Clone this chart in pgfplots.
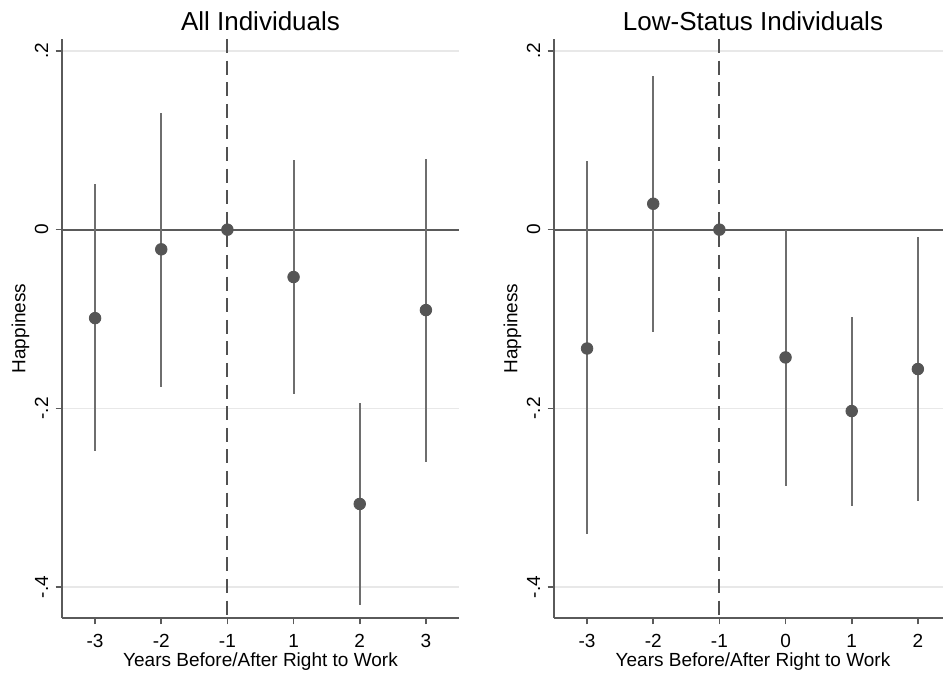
\documentclass[border=0pt]{standalone}
\usepackage{fontspec}
\setmainfont{Liberation Sans}
\usepackage{pgfplots}
\usepackage{pgfplotstable}
\pgfplotsset{compat=1.18}

\definecolor{mk}{RGB}{85,85,85}
\definecolor{ci}{RGB}{110,110,110}
\definecolor{ax}{RGB}{90,90,90}
\definecolor{gr}{RGB}{232,232,232}

\pgfplotstableread{
x y ep em
0 -0.099 0.150 0.149
1 -0.022 0.153 0.154
2 0 0 0
3 -0.053 0.131 0.131
4 -0.307 0.113 0.113
5 -0.090 0.169 0.170
}\allind

\pgfplotstableread{
x y ep em
0 -0.133 0.210 0.208
1 0.029 0.143 0.144
2 0 0 0
3 -0.143 0.143 0.144
4 -0.203 0.105 0.106
5 -0.156 0.1475 0.148
}\lowind

\pgfplotsset{
  panel/.style={
    scale only axis, height=289.5pt,
    ymin=-0.4346, ymax=0.2134,
    xmin=-0.5,
    axis x line*=bottom, axis y line*=left,
    axis line style={ax, line width=1pt, -},
    ytick={-0.4,-0.2,0,0.2}, yticklabels={-.4,-.2,0,.2},
    xtick={0,...,5},
    tick align=outside, major tick length=3.2pt,
    tick style={ax, line width=0.8pt},
    ymajorgrids, grid style={gr, line width=0.8pt},
    ticklabel style={font=\fontsize{9.5}{11}\selectfont, text=black},
    yticklabel style={rotate=90, anchor=south, inner sep=0pt, yshift=3.5pt},
    xticklabel style={anchor=base, inner sep=0pt, yshift=-11.8pt},
    label style={font=\fontsize{9.5}{11}\selectfont},
    title style={font=\fontsize{13}{15}\selectfont, anchor=base, yshift=-2pt},
    ylabel=Happiness,
    ylabel style={at={(axis description cs:0,0.5)}, anchor=center, yshift=20.75pt},
    xlabel={Years Before/After Right to Work},
    clip=false,
  },
  zeroline/.style={ax, line width=1pt, forget plot},
  vline/.style={ax!90!black, line width=1pt, dash pattern=on 7pt off 3.8pt, forget plot},
  est/.style={only marks, mark=*, mark size=2.9pt, mark options={fill=mk, draw=mk},
    error bars/.cd, y dir=both, y explicit, error mark=none,
    error bar style={ci, line width=1.05pt}},
}

\begin{document}
\begin{tikzpicture}
\useasboundingbox (0,-27.5pt) rectangle (471.5pt,309pt);
\begin{axis}[panel, at={(31pt,0pt)}, anchor=south west, width=198.5pt,
  xmax=5.5, xticklabels={-3,-2,-1,1,2,3},
  title={All Individuals},
  xlabel style={at={(axis description cs:0.5,0)}, anchor=base, yshift=-24.5pt}]
\addplot[zeroline] coordinates {(-0.5,0) (5.5,0)};
\addplot[vline] coordinates {(2,0.2134) (2,-0.4346)};
\addplot[est] table[x=x, y=y, y error plus=ep, y error minus=em] {\allind};
\end{axis}
\begin{axis}[panel, at={(277pt,0pt)}, anchor=south west, width=194.5pt,
  xmax=5.38, xticklabels={-3,-2,-1,0,1,2},
  title={Low-Status Individuals}, title style={at={(0.5116,1)}},
  xlabel style={at={(axis description cs:0.5116,0)}, anchor=base, yshift=-24.5pt}]
\addplot[zeroline] coordinates {(-0.5,0) (5.38,0)};
\addplot[vline] coordinates {(2,0.2134) (2,-0.4346)};
\addplot[est] table[x=x, y=y, y error plus=ep, y error minus=em] {\lowind};
\end{axis}
\end{tikzpicture}
\end{document}
